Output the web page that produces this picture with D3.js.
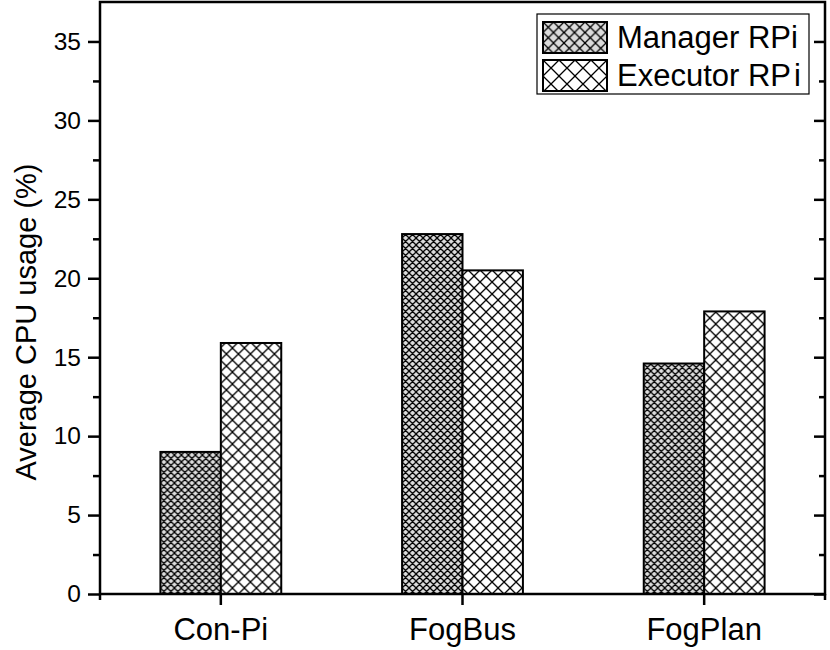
<!DOCTYPE html>
<html>
<head>
<meta charset="utf-8">
<script src="https://cdn.jsdelivr.net/npm/d3@7"></script>
<style>
	body { margin: 0; background: #fff; }
	svg { display: block; font-family: "Liberation Sans", Arial, sans-serif; }
</style>
</head>
<body>
<svg id="chart" width="830" height="650"></svg>
<script>
(function(d3) {
	'use strict';

	/** data */
	var categories = ['Con-Pi', 'FogBus', 'FogPlan'];
	var seriesNames = ['Manager RPi', 'Executor RPi'];
	var managerValues = [9.0, 22.8, 14.6];
	var executorValues = [15.9, 20.5, 17.9];
	var yTicks = [0, 5, 10, 15, 20, 25, 30, 35];
	var yMinorTicks = [2.5, 7.5, 12.5, 17.5, 22.5, 27.5, 32.5];

	var svg = d3.select('#chart');
	var left = 100, right = 825, top = 2, bottom = 594;

	var x = d3.scaleBand().domain(categories).range([left, right]).paddingInner(0.5).paddingOuter(0.25);
	var xSub = d3.scaleBand().domain(seriesNames).range([0, x.bandwidth()]);
	var y = d3.scaleLinear().domain([0, 37.5]).range([bottom, top]);

	/** hatch patterns */
	var defs = svg.append('defs');
	var addHatch = function(id, size, fill) {
		var p = defs.append('pattern').attr('id', id).attr('patternUnits', 'userSpaceOnUse')
			.attr('width', size).attr('height', size);
		p.append('rect').attr('width', size).attr('height', size).attr('fill', fill);
		p.append('path').attr('d', 'M0,0L' + size + ',' + size + 'M0,' + size + 'L' + size + ',0' +
				'M-1,1L1,-1M' + (size - 1) + ',' + (size + 1) + 'L' + (size + 1) + ',' + (size - 1))
			.attr('stroke', '#000').attr('stroke-width', 1.3).attr('fill', 'none');
	};
	addHatch('hatch-manager', 7, '#dcdcdc');
	addHatch('hatch-executor', 12, '#fff');
	addHatch('hatch-manager-legend', 10.5, '#dcdcdc');
	addHatch('hatch-executor-legend', 16, '#fff');
	var fills = { 'Manager RPi': 'url(#hatch-manager)', 'Executor RPi': 'url(#hatch-executor)' };
	var legendFills = { 'Manager RPi': 'url(#hatch-manager-legend)', 'Executor RPi': 'url(#hatch-executor-legend)' };

	/** bars */
	var rows = categories.map(function(c, i) {
		return { category: c, values: [
			{ name: seriesNames[0], value: managerValues[i] },
			{ name: seriesNames[1], value: executorValues[i] }
		] };
	});
	var groups = svg.append('g').selectAll('g').data(rows).enter().append('g')
		.attr('transform', function(d) { return 'translate(' + x(d.category) + ',0)'; });
	groups.selectAll('rect').data(function(d) { return d.values; }).enter().append('rect')
		.attr('x', function(d) { return xSub(d.name); })
		.attr('width', xSub.bandwidth())
		.attr('y', function(d) { return y(d.value); })
		.attr('height', function(d) { return bottom - y(d.value); })
		.attr('fill', function(d) { return fills[d.name]; })
		.attr('stroke', '#000').attr('stroke-width', 2);

	/** axes */
	var yAxis = d3.axisLeft(y).tickValues(yTicks).tickSize(12).tickPadding(7);
	var gy = svg.append('g').attr('transform', 'translate(' + left + ',0)').call(yAxis);
	gy.selectAll('.tick text').attr('font-size', 24.5).attr('fill', '#000');
	gy.selectAll('.tick line').attr('stroke-width', 2.5);
	gy.select('.domain').remove();

	svg.append('g').attr('transform', 'translate(' + left + ',0)')
		.call(d3.axisLeft(y).tickValues(yMinorTicks).tickSize(7).tickFormat(''))
		.call(function(g) { g.select('.domain').remove(); g.selectAll('line').attr('stroke-width', 2.5); });

	svg.append('g').attr('transform', 'translate(' + right + ',0)')
		.call(d3.axisLeft(y).tickValues(yTicks).tickSize(11).tickFormat(''))
		.call(function(g) { g.select('.domain').remove(); g.selectAll('line').attr('stroke-width', 2.5); });
	svg.append('g').attr('transform', 'translate(' + right + ',0)')
		.call(d3.axisLeft(y).tickValues(yMinorTicks).tickSize(6).tickFormat(''))
		.call(function(g) { g.select('.domain').remove(); g.selectAll('line').attr('stroke-width', 2.5); });

	var xCenter = function(c) { return x(c) + x.bandwidth() / 2; };
	var gx = svg.append('g').attr('transform', 'translate(0,' + bottom + ')');
	gx.selectAll('line.major').data(categories).enter().append('line')
		.attr('x1', xCenter).attr('x2', xCenter).attr('y1', 0).attr('y2', 11)
		.attr('stroke', '#000').attr('stroke-width', 2.5);
	gx.selectAll('line.end').data([left, right]).enter().append('line')
		.attr('x1', function(d) { return d; }).attr('x2', function(d) { return d; })
		.attr('y1', 0).attr('y2', 6).attr('stroke', '#000').attr('stroke-width', 2.5);
	gx.selectAll('text').data(categories).enter().append('text')
		.attr('x', xCenter).attr('y', 46).attr('text-anchor', 'middle')
		.attr('font-size', 31).text(function(d) { return d; });

	/** frame */
	svg.append('rect').attr('x', left).attr('y', top).attr('width', right - left).attr('height', bottom - top)
		.attr('fill', 'none').attr('stroke', '#000').attr('stroke-width', 2.5);

	/** y title */
	svg.append('text').attr('transform', 'translate(36,' + ((top + bottom) / 2 + 24) + ') rotate(-90)')
		.attr('text-anchor', 'middle').attr('font-size', 29).text('Average CPU usage (%)');

	/** legend */
	var legend = svg.append('g');
	legend.append('rect').attr('x', 537).attr('y', 14).attr('width', 272).attr('height', 80)
		.attr('fill', '#fff').attr('stroke', '#000').attr('stroke-width', 1.2);
	var items = legend.selectAll('g.item').data(seriesNames).enter().append('g')
		.attr('transform', function(d, i) { return 'translate(543,' + (22 + i * 38) + ')'; });
	items.append('rect').attr('width', 64).attr('height', 31)
		.attr('fill', function(d) { return legendFills[d]; })
		.attr('stroke', '#000').attr('stroke-width', 2);
	items.append('text').attr('x', 74).attr('y', 26).attr('font-size', 31)
		.each(function(d) {
			var t = d3.select(this);
			t.append('tspan').text(d.slice(0, -1));
			t.append('tspan').attr('dx', d === 'Executor RPi' ? 3 : 0).text(d.slice(-1));
		});
})(d3);
</script>
</body>
</html>
